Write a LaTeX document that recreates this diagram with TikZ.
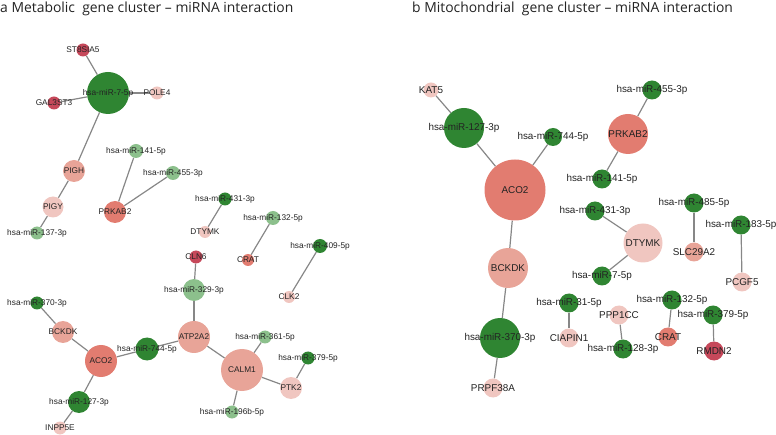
\documentclass[tikz,border=0pt]{standalone}
\usepackage{fontspec}
\setmainfont{Liberation Sans}
\newfontfamily\titlefont{Open Sans}
\usetikzlibrary{backgrounds}
\definecolor{dkgreen}{RGB}{47,133,50}
\definecolor{ltgreen}{RGB}{140,192,140}
\definecolor{redg}{RGB}{198,72,90}
\definecolor{salmon}{RGB}{226,124,112}
\definecolor{pinkg}{RGB}{232,164,152}
\definecolor{ltpink}{RGB}{240,198,192}
\definecolor{edgegray}{RGB}{135,135,135}
\definecolor{labgray}{RGB}{35,35,35}

\begin{document}
\begin{tikzpicture}[x=1pt,y=-1pt,
    nd/.style={circle,inner sep=0pt,minimum size=#1},
    la/.style={label={[font=\fontsize{8.3}{9}\selectfont,text=labgray,inner sep=0pt]center:#1}},
    lb/.style={label={[font=\fontsize{9.9}{11}\selectfont,text=labgray,inner sep=0pt]center:#1}},
    link/.style={draw=edgegray,line width=1.2pt},
    ttl/.style={anchor=base west,inner sep=0pt,text=labgray,font=\titlefont\fontsize{13.9}{16}\selectfont}]
  \useasboundingbox (0,0) rectangle (776,435);

  % titles
  \node[ttl] (ta) at (0,13) {a Metabolic\ \ gene cluster – miRNA interaction};
  \node[ttl] (tb) at (412,13) {b Mitochondrial\ \ gene cluster – miRNA interaction};

  % a: metabolic cluster
  \node[nd=13,fill=redg,la=ST8SIA5] (aST) at (83,50) {};
  \node[nd=42,fill=dkgreen,la=hsa-miR-7-5p] (a7) at (108,93) {};
  \node[nd=13,fill=ltpink,la=POLE4] (aPOLE) at (157,93) {};
  \node[nd=13,fill=redg,la=GAL3ST3] (aGAL) at (54,103) {};
  \node[nd=22,fill=pinkg,la=PIGH] (aPIGH) at (74,171) {};
  \node[nd=21,fill=ltpink,la=PIGY] (aPIGY) at (53,207) {};
  \node[nd=13,fill=ltgreen,la=hsa-miR-137-3p] (a137) at (37,233) {};
  \node[nd=14,fill=ltgreen,la=hsa-miR-141-5p] (a141) at (136,151) {};
  \node[nd=14,fill=ltgreen,la=hsa-miR-455-3p] (a455) at (173,173) {};
  \node[nd=22,fill=salmon,la=PRKAB2] (aPRK) at (115,212) {};
  \node[nd=13,fill=dkgreen,la=hsa-miR-431-3p] (a431) at (225,199) {};
  \node[nd=12,fill=ltpink,la=DTYMK] (aDTY) at (205,232) {};
  \node[nd=14,fill=ltgreen,la=hsa-miR-132-5p] (a132) at (273,218) {};
  \node[nd=12,fill=salmon,la=CRAT] (aCRAT) at (248,260) {};
  \node[nd=14,fill=dkgreen,la=hsa-miR-409-5p] (a409) at (320,246) {};
  \node[nd=12,fill=ltpink,la=CLK2] (aCLK) at (289,297) {};
  \node[nd=13,fill=redg,la=CLN6] (aCLN) at (196,257) {};
  \node[nd=22,fill=ltgreen,la=hsa-miR-329-3p] (a329) at (194,290) {};
  \node[nd=13,fill=dkgreen,la=hsa-miR-370-3p] (a370) at (37,303) {};
  \node[nd=22,fill=pinkg,la=BCKDK] (aBCK) at (63,332) {};
  \node[nd=32,fill=pinkg,la=ATP2A2] (aATP) at (194,337) {};
  \node[nd=13,fill=ltgreen,la=hsa-miR-361-5p] (a361) at (265,337) {};
  \node[nd=23,fill=dkgreen,la=hsa-miR-744-5p] (a744) at (147,349) {};
  \node[nd=32,fill=salmon,la=ACO2] (aACO) at (101,361) {};
  \node[nd=13,fill=dkgreen,la=hsa-miR-379-5p] (a379) at (308,358) {};
  \node[nd=42,fill=pinkg,la=CALM1] (aCALM) at (242,370) {};
  \node[nd=22,fill=ltpink,la=PTK2] (aPTK) at (291,388) {};
  \node[nd=22,fill=dkgreen,la=hsa-miR-127-3p] (a127) at (79,402) {};
  \node[nd=13,fill=ltgreen,la=hsa-miR-196b-5p] (a196) at (232,412) {};
  \node[nd=13,fill=ltpink,la=INPP5E] (aINP) at (60,428) {};

  % b: mitochondrial cluster
  \node[nd=15,fill=ltpink,lb=KAT5] (bKAT) at (431,90) {};
  \node[nd=40,fill=dkgreen,lb=hsa-miR-127-3p] (b127) at (464,128) {};
  \node[nd=19,fill=dkgreen,lb=hsa-miR-455-3p] (b455) at (652,90) {};
  \node[nd=40,fill=salmon,lb=PRKAB2] (bPRK) at (628,134) {};
  \node[nd=18,fill=dkgreen,lb=hsa-miR-744-5p] (b744) at (553,137) {};
  \node[nd=61,fill=salmon,lb=ACO2] (bACO) at (515,190) {};
  \node[nd=19,fill=dkgreen,lb=hsa-miR-141-5p] (b141) at (602,179) {};
  \node[nd=19,fill=dkgreen,lb=hsa-miR-431-3p] (b431) at (595,211) {};
  \node[nd=19,fill=dkgreen,lb=hsa-miR-485-5p] (b485) at (694,203) {};
  \node[nd=19,fill=dkgreen,lb=hsa-miR-183-5p] (b183) at (741,225) {};
  \node[nd=39,fill=ltpink,lb=DTYMK] (bDTY) at (643,243) {};
  \node[nd=19,fill=pinkg,lb=SLC29A2] (bSLC) at (694,252) {};
  \node[nd=40,fill=pinkg,lb=BCKDK] (bBCK) at (508,268) {};
  \node[nd=19,fill=dkgreen,lb=hsa-miR-7-5p] (b7) at (602,276) {};
  \node[nd=19,fill=ltpink,lb=PCGF5] (bPCG) at (742,282) {};
  \node[nd=19,fill=dkgreen,lb=hsa-miR-31-5p] (b31) at (569,303) {};
  \node[nd=19,fill=dkgreen,lb=hsa-miR-132-5p] (b132) at (672,300) {};
  \node[nd=19,fill=ltpink,lb=PPP1CC] (bPPP) at (619,315) {};
  \node[nd=19,fill=dkgreen,lb=hsa-miR-379-5p] (b379) at (713,315) {};
  \node[nd=40,fill=dkgreen,lb=hsa-miR-370-3p] (b370) at (500,338) {};
  \node[nd=19,fill=ltpink,lb=CIAPIN1] (bCIA) at (569,338) {};
  \node[nd=19,fill=salmon,lb=CRAT] (bCRAT) at (668,337) {};
  \node[nd=19,fill=dkgreen,lb=hsa-miR-128-3p] (b128) at (623,349) {};
  \node[nd=19,fill=redg,lb=RMDN2] (bRMD) at (714,351) {};
  \node[nd=19,fill=ltpink,lb=PRPF38A] (bPRP) at (493,388) {};

  % interactions
  \begin{scope}[on background layer]
    \draw[link] (aST) -- (a7);
    \draw[link] (aGAL) -- (a7);
    \draw[link] (aPOLE) -- (a7);
    \draw[link] (a7) -- (aPIGH);
    \draw[link] (aPIGH) -- (aPIGY);
    \draw[link] (aPIGY) -- (a137);
    \draw[link] (a141) -- (aPRK);
    \draw[link] (a455) -- (aPRK);
    \draw[link] (a431) -- (aDTY);
    \draw[link] (a132) -- (aCRAT);
    \draw[link] (a409) -- (aCLK);
    \draw[link] (aCLN) -- (a329);
    \draw[link] (a329) -- (aATP);
    \draw[link] (a370) -- (aBCK);
    \draw[link] (aBCK) -- (aACO);
    \draw[link] (aACO) -- (a744);
    \draw[link] (a744) -- (aATP);
    \draw[link] (aATP) -- (aCALM);
    \draw[link] (a361) -- (aCALM);
    \draw[link] (aCALM) -- (aPTK);
    \draw[link] (a379) -- (aPTK);
    \draw[link] (aCALM) -- (a196);
    \draw[link] (aACO) -- (a127);
    \draw[link] (a127) -- (aINP);
    \draw[link] (bKAT) -- (b127);
    \draw[link] (b127) -- (bACO);
    \draw[link] (b744) -- (bACO);
    \draw[link] (b455) -- (bPRK);
    \draw[link] (bPRK) -- (b141);
    \draw[link] (bACO) -- (bBCK);
    \draw[link] (bBCK) -- (b370);
    \draw[link] (b370) -- (bPRP);
    \draw[link] (b431) -- (bDTY);
    \draw[link] (bDTY) -- (b7);
    \draw[link] (b485) -- (bSLC);
    \draw[link] (b183) -- (bPCG);
    \draw[link] (b31) -- (bCIA);
    \draw[link] (bPPP) -- (b128);
    \draw[link] (b132) -- (bCRAT);
    \draw[link] (b379) -- (bRMD);
  \end{scope}
\end{tikzpicture}
\end{document}
